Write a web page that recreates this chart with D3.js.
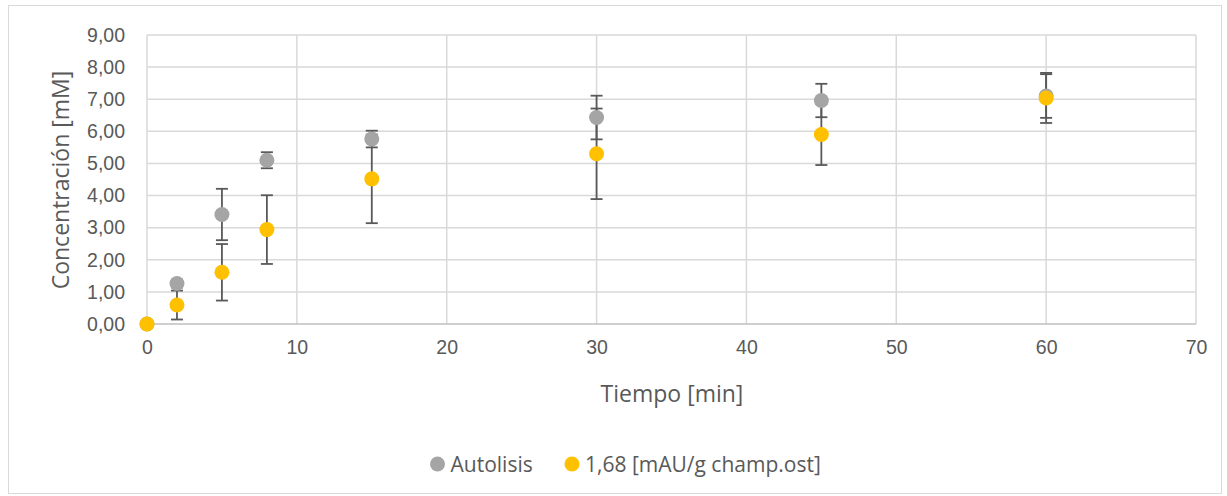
<!DOCTYPE html>
<html>
<head>
<meta charset="utf-8">
<script src="https://cdn.jsdelivr.net/npm/d3@7"></script>
<style>
  body { margin: 0; background: #fff; }
  svg { display: block; font-family: "Open Sans", sans-serif; }
</style>
</head>
<body>
<div id="chart"></div>
<script>
// Sampling times [min]
const tiempo = [0, 2, 5, 8, 15, 30, 45, 60];

// Autolysis series and its error
const autolisis = [0, 1.26, 3.41, 5.10, 5.76, 6.43, 6.96, 7.10];
const autolisisErr = [0, 0.12, 0.80, 0.25, 0.26, 0.68, 0.52, 0.68];

// Enzyme dose series and its error
const enzima = [0, 0.59, 1.61, 2.94, 4.52, 5.30, 5.90, 7.04];
const enzimaErr = [0, 0.45, 0.88, 1.07, 1.38, 1.41, 0.95, 0.78];

const seriesNames = ["Autolisis", "1,68 [mAU/g champ.ost]"];
const xTicks = [0, 10, 20, 30, 40, 50, 60, 70];
const yTicks = [0, 1, 2, 3, 4, 5, 6, 7, 8, 9];

const width = 1227, height = 496;
const margin = { top: 35, right: 31, bottom: 172, left: 147 };
const innerW = width - margin.left - margin.right;
const innerH = height - margin.top - margin.bottom;
const textColor = "#595959";

const svg = d3.select("#chart")
  .append("svg")
  .attr("width", width)
  .attr("height", height);

// chart frame
svg.append("rect")
  .attr("x", 8.5).attr("y", 5.5)
  .attr("width", width - 14).attr("height", height - 8)
  .attr("fill", "#fff")
  .attr("stroke", "#d9d9d9");

const g = svg.append("g")
  .attr("transform", `translate(${margin.left},${margin.top})`);

const x = d3.scaleLinear().domain([0, 70]).range([0, innerW]);
const y = d3.scaleLinear().domain([0, 9]).range([innerH, 0]);

// gridlines
g.append("g")
  .selectAll("line")
  .data(yTicks.filter(d => d > 0))
  .enter().append("line")
  .attr("x1", 0).attr("x2", innerW)
  .attr("y1", d => y(d)).attr("y2", d => y(d))
  .attr("stroke", "#d9d9d9").attr("stroke-width", 1.5);

g.append("g")
  .selectAll("line")
  .data(xTicks)
  .enter().append("line")
  .attr("x1", d => x(d)).attr("x2", d => x(d))
  .attr("y1", 0).attr("y2", innerH)
  .attr("stroke", "#d9d9d9").attr("stroke-width", 1.5);

// horizontal axis line
g.append("line")
  .attr("x1", 0).attr("x2", innerW)
  .attr("y1", innerH).attr("y2", innerH)
  .attr("stroke", "#bfbfbf").attr("stroke-width", 1.5);

// tick labels
const fmt = d => d.toFixed(2).replace(".", ",");

const xAxis = g.append("g")
  .attr("transform", `translate(0,${innerH})`)
  .call(d3.axisBottom(x).tickValues(xTicks).tickSize(0).tickPadding(16).tickFormat(d3.format("d")));
xAxis.select(".domain").remove();
xAxis.selectAll("text").attr("fill", textColor).style("font-size", "19.5px");

const yAxis = g.append("g")
  .call(d3.axisLeft(y).tickValues(yTicks).tickSize(0).tickPadding(22).tickFormat(fmt));
yAxis.select(".domain").remove();
yAxis.selectAll("text").attr("fill", textColor).style("font-size", "19.5px");

// axis titles
g.append("text")
  .attr("x", innerW / 2 + 0.5)
  .attr("y", innerH + 78)
  .attr("text-anchor", "middle")
  .attr("fill", textColor)
  .style("font-size", "23px")
  .text("Tiempo [min]");

g.append("text")
  .attr("transform", `translate(${60 - margin.left},${innerH / 2 + 0.5}) rotate(-90)`)
  .attr("text-anchor", "middle")
  .attr("dominant-baseline", "central")
  .attr("fill", textColor)
  .style("font-size", "23px")
  .text("Concentración [mM]");

// build point records for each series
const series = [
  { name: seriesNames[0], color: "#a5a5a5", values: autolisis, err: autolisisErr },
  { name: seriesNames[1], color: "#ffc000", values: enzima, err: enzimaErr }
];
series.forEach(s => {
  s.points = tiempo.map((t, i) => ({ t: t, v: s.values[i], e: s.err[i] }));
});

// error bars go underneath the markers
const capHalf = 6;
series.forEach(s => {
  const eb = g.append("g")
    .attr("stroke", "#595959")
    .attr("stroke-width", 1.8);
  const pts = s.points.filter(p => p.e > 0);
  eb.selectAll(".stem").data(pts).enter().append("line")
    .attr("x1", p => x(p.t)).attr("x2", p => x(p.t))
    .attr("y1", p => y(p.v - p.e)).attr("y2", p => y(p.v + p.e));
  eb.selectAll(".capTop").data(pts).enter().append("line")
    .attr("x1", p => x(p.t) - capHalf).attr("x2", p => x(p.t) + capHalf)
    .attr("y1", p => y(p.v + p.e)).attr("y2", p => y(p.v + p.e));
  eb.selectAll(".capBot").data(pts).enter().append("line")
    .attr("x1", p => x(p.t) - capHalf).attr("x2", p => x(p.t) + capHalf)
    .attr("y1", p => y(p.v - p.e)).attr("y2", p => y(p.v - p.e));
});

// markers
series.forEach(s => {
  g.append("g")
    .selectAll("circle")
    .data(s.points)
    .enter().append("circle")
    .attr("cx", p => x(p.t))
    .attr("cy", p => y(p.v))
    .attr("r", 7.5)
    .attr("fill", s.color);
});

// legend
const legend = svg.append("g")
  .attr("transform", "translate(0,464)");
const legendX = [437.5, 572];
series.forEach((s, i) => {
  legend.append("circle")
    .attr("cx", legendX[i]).attr("cy", 0)
    .attr("r", 7.5)
    .attr("fill", s.color);
  legend.append("text")
    .attr("x", legendX[i] + 13)
    .attr("y", 0)
    .attr("dominant-baseline", "central")
    .attr("fill", textColor)
    .style("font-size", "21px")
    .text(s.name);
});
</script>
</body>
</html>
